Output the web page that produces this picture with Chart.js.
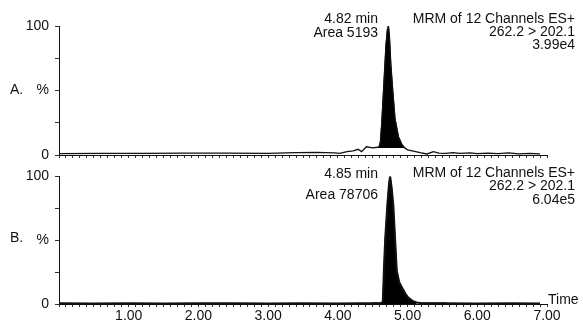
<!DOCTYPE html>
<html>
<head>
<meta charset="utf-8">
<script src="https://cdn.jsdelivr.net/npm/chart.js@4.4.0/dist/chart.umd.min.js"></script>
<style>
  html, body { margin: 0; padding: 0; background: #fff; }
  #wrap { position: relative; width: 583px; height: 322px; overflow: hidden; }
  .panel { position: absolute; left: 0; width: 583px; }
  #panelA { top: 0; height: 170px; }
  #panelB { top: 162px; height: 160px; }
</style>
</head>
<body>
<div id="wrap">
  <div class="panel" id="panelA"><canvas id="chartA"></canvas></div>
  <div class="panel" id="panelB"><canvas id="chartB"></canvas></div>
</div>
<script>
// Trace A (retention time in min, intensity in %)
const aTimeBefore = [0, 0.6, 1.2, 1.8, 2.4, 3.0, 3.4, 3.7, 3.95, 4.03, 4.13, 4.22, 4.29, 4.34, 4.41, 4.50, 4.57];
const aValBefore  = [1.0, 1.2, 1.2, 1.5, 1.4, 1.3, 1.8, 2.0, 1.6, 1.3, 2.6, 3.2, 4.4, 2.6, 6.4, 5.6, 6.0];
const aTimePeak = [4.59, 4.61, 4.63, 4.66, 4.69, 4.71, 4.725, 4.74, 4.76, 4.79, 4.82, 4.87, 4.92, 4.96];
const aValPeak  = [6, 10, 25, 55, 85, 97, 100, 92, 70, 48, 28, 14, 8, 5.5];
const aTimeAfter = [5.0, 5.1, 5.18, 5.28, 5.37, 5.45, 5.55, 5.65, 5.75, 5.9, 6.0, 6.15, 6.3, 6.45, 6.6, 6.75, 6.9];
const aValAfter  = [4.0, 2.8, 1.8, 0.8, 2.6, 1.5, 1.2, 1.8, 1.3, 1.6, 1.0, 1.5, 1.1, 1.6, 0.9, 1.3, 0.8];

// Trace B
const bTimeBefore = [0, 0.5, 1.0, 1.5, 2.0, 2.5, 3.0, 3.5, 4.0, 4.3, 4.5, 4.6];
const bValBefore  = [0.5, 0.4, 0.5, 0.4, 0.6, 0.5, 0.4, 0.5, 0.4, 0.5, 0.6, 0.6];
const bTimePeak = [4.625, 4.645, 4.66, 4.68, 4.71, 4.735, 4.75, 4.77, 4.795, 4.82, 4.845, 4.88, 4.92, 4.97, 5.01, 5.07, 5.13];
const bValPeak  = [0.8, 2, 26, 52, 78, 95, 100, 92, 78, 52, 26, 17, 13, 8, 5, 2.5, 1.2];
const bTimeAfter = [5.2, 5.5, 6.0, 6.5, 6.9];
const bValAfter  = [0.6, 0.5, 0.4, 0.5, 0.4];
const bBaseTime = [4.49, 5.56];
const bBaseVal  = [1.2, 1.2];

const xLabels = ['1.00', '2.00', '3.00', '4.00', '5.00', '6.00', '7.00'];
const FONT = '"Liberation Sans", Arial, sans-serif';

function pts(xs, ys) {
    return xs.map((x, i) => ({ x: x, y: ys[i] }));
}

// draws the free text of a panel
function textPlugin(items) {
    return {
        id: 'panelText',
        afterDraw(chart) {
            const ctx = chart.ctx;
            ctx.save();
            ctx.fillStyle = '#111';
            ctx.font = '14px ' + FONT;
            ctx.textBaseline = 'middle';
            items.forEach(t => {
                ctx.textAlign = t.align || 'right';
                ctx.fillText(t.text, t.x, t.y);
            });
            ctx.restore();
        }
    };
}

function makeChart(id, trace, lineWidth, peak, extra, top, xHeight, showLabels, texts, peakFill) {
    const datasets = [
        {
            data: trace,
            borderColor: '#111',
            borderWidth: lineWidth,
            pointRadius: 0,
            tension: 0,
            fill: false
        },
        {
            data: peak,
            borderColor: '#000',
            backgroundColor: '#000',
            borderWidth: 1,
            pointRadius: 0,
            fill: peakFill
        }
    ];
    extra.forEach(d => datasets.push(d));

    return new Chart(document.getElementById(id), {
        type: 'line',
        data: { datasets: datasets },
        options: {
            responsive: true,
            maintainAspectRatio: false,
            animation: false,
            layout: { padding: { top: top, right: 36, left: 0, bottom: 0 } },
            plugins: { legend: { display: false }, tooltip: { enabled: false } },
            scales: {
                x: {
                    type: 'linear',
                    min: 0,
                    max: 7,
                    afterFit: s => { s.height = xHeight; },
                    border: { display: true, color: '#111', width: 1 },
                    grid: { drawOnChartArea: false, color: '#333', tickLength: 3 },
                    ticks: {
                        stepSize: 0.1,
                        autoSkip: false,
                        maxRotation: 0,
                        padding: 1,
                        color: '#111',
                        font: { family: FONT, size: 14 },
                        callback: v => {
                            if (!showLabels) return '';
                            const r = Math.round(v);
                            if (Math.abs(v - r) > 1e-6 || r === 0) return '';
                            return xLabels[r - 1];
                        }
                    }
                },
                y: {
                    min: 0,
                    max: 100,
                    afterFit: s => { s.width = 59; },
                    border: { display: true, color: '#111', width: 1 },
                    grid: { drawOnChartArea: false, color: '#333', tickLength: 4 },
                    ticks: {
                        stepSize: 25,
                        padding: 6,
                        color: '#111',
                        font: { family: FONT, size: 14 },
                        callback: v => v === 100 ? '100' : v === 50 ? '%' : v === 0 ? '0' : ''
                    }
                }
            }
        },
        plugins: [textPlugin(texts)]
    });
}

makeChart('chartA',
    pts(aTimeBefore.concat(aTimePeak, aTimeAfter), aValBefore.concat(aValPeak, aValAfter)),
    1.3,
    pts(aTimePeak, aValPeak),
    [],
    26, 15, false,
    [
        { text: 'A.', x: 10, y: 90, align: 'left' },
        { text: '4.82 min', x: 378, y: 19 },
        { text: 'Area 5193', x: 378, y: 33 },
        { text: 'MRM of 12 Channels ES+', x: 575, y: 19 },
        { text: '262.2 > 202.1', x: 575, y: 32 },
        { text: '3.99e4', x: 575, y: 45 }
    ],
    { value: 5.5 }
);

makeChart('chartB',
    pts(bTimeBefore.concat(bTimePeak, bTimeAfter), bValBefore.concat(bValPeak, bValAfter)),
    2,
    pts(bTimePeak, bValPeak),
    [{
        data: pts(bBaseTime, bBaseVal),
        borderColor: '#888',
        borderWidth: 1,
        pointRadius: 0,
        fill: false
    }],
    13, 18, true,
    [
        { text: 'B.', x: 10, y: 76, align: 'left' },
        { text: '4.85 min', x: 378, y: 12 },
        { text: 'Area 78706', x: 378, y: 33 },
        { text: 'MRM of 12 Channels ES+', x: 575, y: 11 },
        { text: '262.2 > 202.1', x: 575, y: 24 },
        { text: '6.04e5', x: 575, y: 38 },
        { text: 'Time', x: 548, y: 138, align: 'left' }
    ],
    'origin'
);
</script>
</body>
</html>
